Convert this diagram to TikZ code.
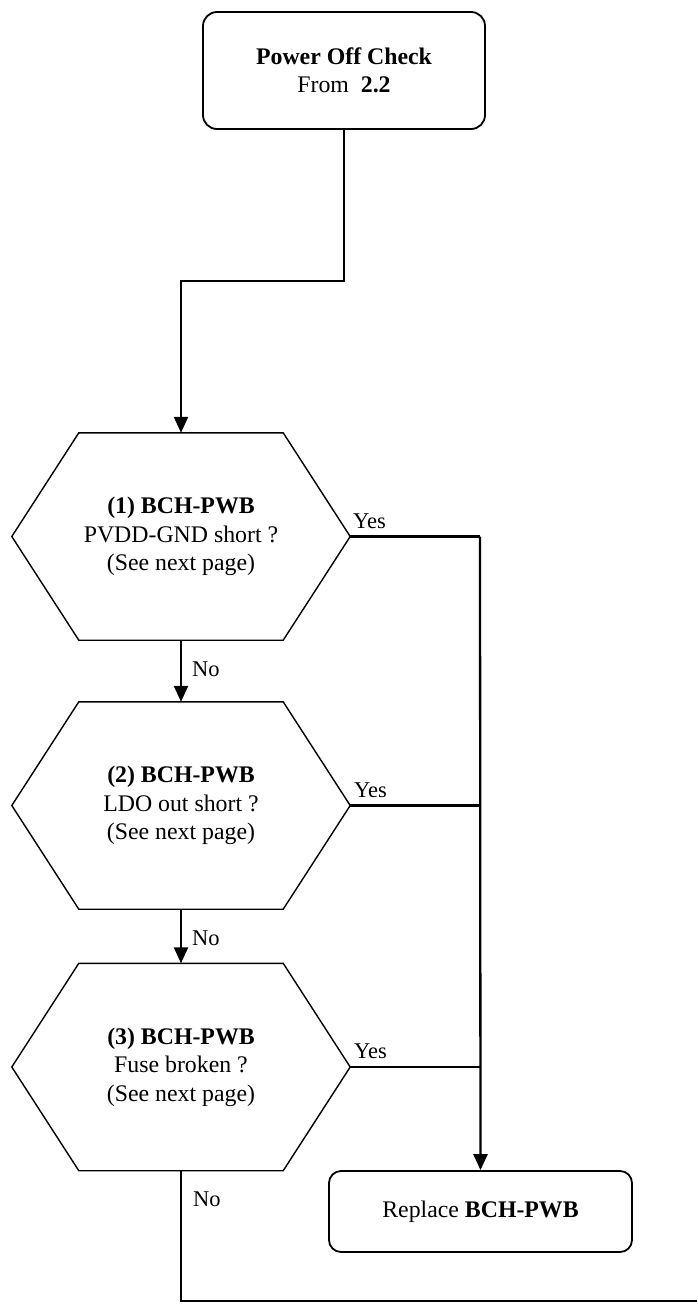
\documentclass[tikz,border=0pt]{standalone}
\usepackage{fontspec}
\setmainfont{Liberation Serif}
\usetikzlibrary{arrows.meta}
\begin{document}
\begin{tikzpicture}[x=1pt,y=-1pt,
  txt/.style={font=\fontsize{23.8}{28.5}\selectfont, align=center},
  lbl/.style={font=\fontsize{22.5}{26}\selectfont, inner sep=0pt, anchor=base west},
  rbox/.style={txt, draw, line width=1.8pt, rounded corners=14pt},
  hexbox/.style={txt, minimum width=338pt, minimum height=207pt, inner sep=0pt},
  conn/.style={line width=2.3pt},
  arr/.style={conn, -{Triangle[width=14pt,length=16pt]}},
  hexline/.style={line width=1.4pt, line join=miter}]
\useasboundingbox (0,0) rectangle (697,1304);
\node[rbox, minimum width=282pt, minimum height=117pt] (top) at (344,70.5)
  {\textbf{Power Off Check}\\From\ \ \textbf{2.2}};
\node[hexbox] (h1) at (181,536.5) {\textbf{(1) BCH-PWB}\\PVDD-GND short ?\\(See next page)};
\node[hexbox] (h2) at (181,805.5) {\textbf{(2) BCH-PWB}\\LDO out short ?\\(See next page)};
\node[hexbox] (h3) at (181,1067) {\textbf{(3) BCH-PWB}\\Fuse broken ?\\(See next page)};
\foreach \h in {h1,h2,h3}{
  \draw[hexline] ([xshift=67pt]\h.north west) -- ([xshift=-67pt]\h.north east) -- (\h.east)
    -- ([xshift=-67pt]\h.south east) -- ([xshift=67pt]\h.south west) -- (\h.west) -- cycle;
}
\node[rbox, minimum width=303pt, minimum height=81pt, rounded corners=12pt] (rep) at (480.5,1211.5)
  {Replace \textbf{BCH-PWB}};
\coordinate (b1) at (344,281);
\coordinate (j1) at (480,536.5);
\coordinate (j2) at (480,805.5);
\coordinate (j3) at (480,1067);
\coordinate (c1) at (181,1301);
\coordinate (endp) at (697,1301);
\draw[arr] (top.south) -- (b1) -| (h1.north);
\draw[arr] (h1.south) -- (h2.north);
\draw[arr] (h2.south) -- (h3.north);
\draw[conn] (h1.east) -- (j1);
\draw[conn] (h2.east) -- (j2);
\draw[conn] (h3.east) -- (j3);
\draw[arr] (j1) -- (rep.north);
\draw[conn] (h3.south) -- (c1) -- (endp);
\node[lbl] (y1) at (353,528) {Yes};
\node[lbl] (y2) at (354,797) {Yes};
\node[lbl] (y3) at (354,1058) {Yes};
\node[lbl] (n1) at (192,676) {No};
\node[lbl] (n2) at (192,945) {No};
\node[lbl] (n3) at (193,1206) {No};
\end{tikzpicture}
\end{document}
